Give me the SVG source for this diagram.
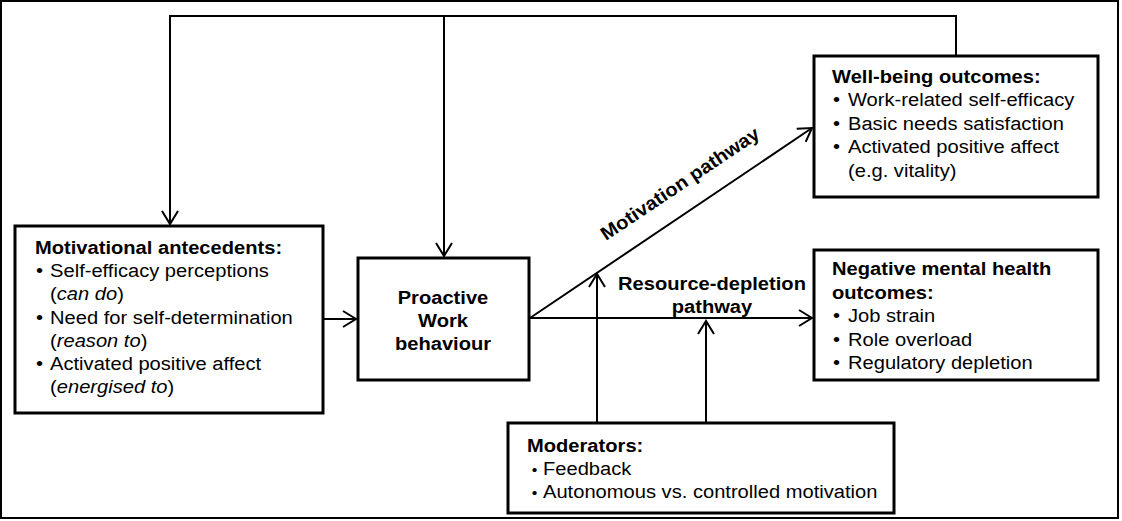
<svg xmlns="http://www.w3.org/2000/svg" width="1122" height="521" viewBox="0 0 1122 521">
<style>
.box{fill:#fff;stroke:#000;stroke-width:3}
.c{fill:none;stroke:#000;stroke-width:2}
text{font-family:"Liberation Sans",Arial,sans-serif;font-size:19px;fill:#000}
.b{font-weight:bold}
</style>
<defs>
<marker id="ah" markerUnits="userSpaceOnUse" viewBox="-16 -10 18 20" refX="0" refY="0" markerWidth="18" markerHeight="20" orient="auto" overflow="visible">
<path d="M-13,-8 L0,0 L-13,8" fill="none" stroke="#000" stroke-width="2"/>
</marker>
</defs>
<rect x="1" y="1" width="1117" height="517" fill="#fff" stroke="#000" stroke-width="2"/>
<g id="connectors">
<path class="c" d="M956,55 V16 H170 V224" marker-end="url(#ah)"/>
<path class="c" d="M444,16 V256" marker-end="url(#ah)"/>
<path class="c" d="M323,319 H356" marker-end="url(#ah)"/>
<path class="c" d="M530,318 L812,128" marker-end="url(#ah)"/>
<path class="c" d="M530,318 H812" marker-end="url(#ah)"/>
<path class="c" d="M597,422 V274" marker-end="url(#ah)"/>
<path class="c" d="M706,422 V321" marker-end="url(#ah)"/>
<text class="b" text-anchor="middle" transform="translate(683.6,189) rotate(-33.9) scale(1.06,1)">Motivation pathway</text>
<text class="b" text-anchor="middle" transform="translate(712,290) scale(1.06,1)"><tspan x="0" y="0">Resource-depletion</tspan><tspan x="0" y="23">pathway</tspan></text>
</g>
<g id="motivational">
<rect class="box" x="15" y="226" width="308" height="187"/>
<text transform="translate(35,254) scale(1.06,1)">
<tspan class="b" x="0" y="0">Motivational antecedents:</tspan>
<tspan x="1" y="23">•</tspan><tspan x="14.2" y="23">Self-efficacy perceptions</tspan>
<tspan x="14.2" y="46">(<tspan font-style="italic">can do</tspan>)</tspan>
<tspan x="1" y="70">•</tspan><tspan x="14.2" y="70">Need for self-determination</tspan>
<tspan x="14.2" y="93">(<tspan font-style="italic">reason to</tspan>)</tspan>
<tspan x="1" y="116">•</tspan><tspan x="14.2" y="116">Activated positive affect</tspan>
<tspan x="14.2" y="139">(<tspan font-style="italic">energised to</tspan>)</tspan>
</text>
</g>
<g id="proactive">
<rect class="box" x="358" y="258" width="171" height="122"/>
<text class="b" text-anchor="middle" transform="translate(443,304) scale(1.06,1)"><tspan x="0" y="0">Proactive</tspan><tspan x="0" y="23">Work</tspan><tspan x="0" y="46">behaviour</tspan></text>
</g>
<g id="wellbeing">
<rect class="box" x="814" y="56" width="284" height="141"/>
<text transform="translate(832,83) scale(1.06,1)">
<tspan class="b" x="0" y="0">Well-being outcomes:</tspan>
<tspan x="0.9" y="23">•</tspan><tspan x="15.1" y="23">Work-related self-efficacy</tspan>
<tspan x="0.9" y="47">•</tspan><tspan x="15.1" y="47">Basic needs satisfaction</tspan>
<tspan x="0.9" y="70">•</tspan><tspan x="15.1" y="70">Activated positive affect</tspan>
<tspan x="15.1" y="94">(e.g. vitality)</tspan>
</text>
</g>
<g id="negative">
<rect class="box" x="814" y="250" width="284" height="130"/>
<text transform="translate(832,275) scale(1.06,1)">
<tspan class="b" x="0" y="0">Negative mental health</tspan>
<tspan class="b" x="0" y="24">outcomes:</tspan>
<tspan x="0.9" y="47">•</tspan><tspan x="15.1" y="47">Job strain</tspan>
<tspan x="0.9" y="71">•</tspan><tspan x="15.1" y="71">Role overload</tspan>
<tspan x="0.9" y="94">•</tspan><tspan x="15.1" y="94">Regulatory depletion</tspan>
</text>
</g>
<g id="moderators">
<rect class="box" x="508" y="423" width="386" height="90"/>
<text transform="translate(527,452) scale(1.06,1)">
<tspan class="b" x="0" y="0">Moderators:</tspan>
<tspan x="4.5" y="23" font-size="15">•</tspan><tspan x="15.1" y="23">Feedback</tspan>
<tspan x="4.5" y="46" font-size="15">•</tspan><tspan x="15.1" y="46">Autonomous vs. controlled motivation</tspan>
</text>
</g>
</svg>
